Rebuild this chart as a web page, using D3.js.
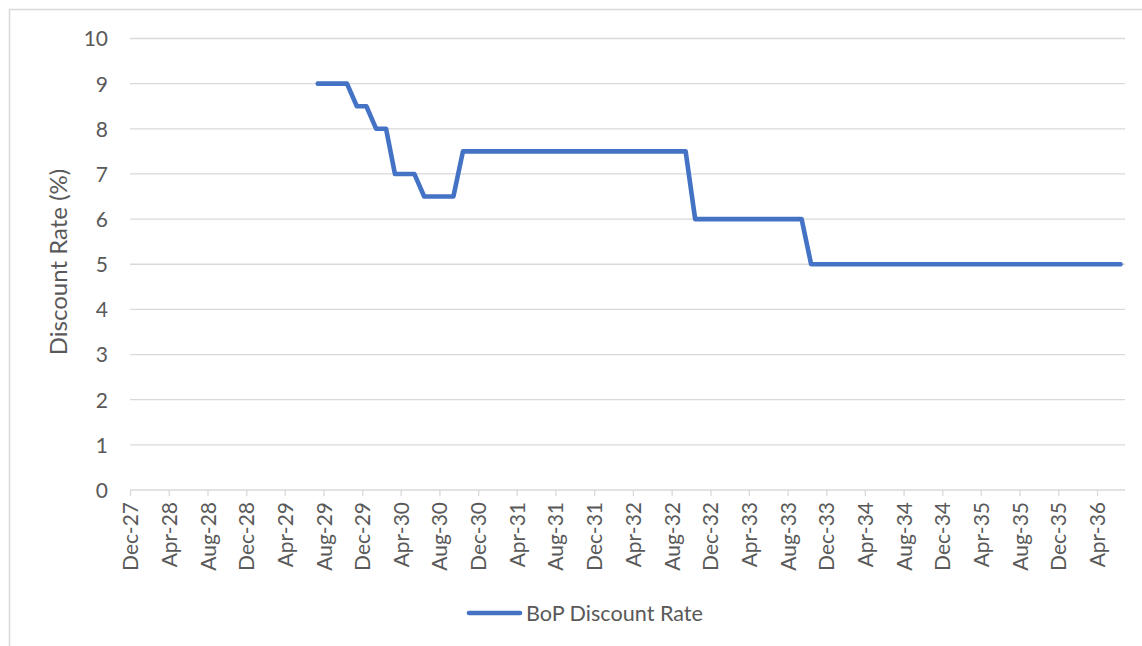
<!DOCTYPE html>
<html><head><meta charset="utf-8">
<script src="https://cdn.jsdelivr.net/npm/d3@7"></script>
<style>
html,body{margin:0;padding:0;background:#fff;}
svg{display:block;font-family:Lato, "Open Sans", sans-serif;}
</style></head>
<body><svg id="chart" width="1142" height="646"></svg>
<script>
// Monthly observations (YYYY-MM)
const months = [
 "1929-07","1929-08","1929-09","1929-10","1929-11","1929-12",
 "1930-01","1930-02","1930-03","1930-04","1930-05","1930-06","1930-07","1930-08","1930-09","1930-10","1930-11","1930-12",
 "1931-01","1931-02","1931-03","1931-04","1931-05","1931-06","1931-07","1931-08","1931-09","1931-10","1931-11","1931-12",
 "1932-01","1932-02","1932-03","1932-04","1932-05","1932-06","1932-07","1932-08","1932-09","1932-10","1932-11","1932-12",
 "1933-01","1933-02","1933-03","1933-04","1933-05","1933-06","1933-07","1933-08","1933-09","1933-10","1933-11","1933-12",
 "1934-01","1934-02","1934-03","1934-04","1934-05","1934-06","1934-07","1934-08","1934-09","1934-10","1934-11","1934-12",
 "1935-01","1935-02","1935-03","1935-04","1935-05","1935-06","1935-07","1935-08","1935-09","1935-10","1935-11","1935-12",
 "1936-01","1936-02","1936-03","1936-04","1936-05","1936-06"
];
const discountRate = [
 9,9,9,9,8.5,8.5,
 8,8,7,7,7,6.5,6.5,6.5,6.5,7.5,7.5,7.5,
 7.5,7.5,7.5,7.5,7.5,7.5,7.5,7.5,7.5,7.5,7.5,7.5,
 7.5,7.5,7.5,7.5,7.5,7.5,7.5,7.5,7.5,6,6,6,
 6,6,6,6,6,6,6,6,6,5,5,5,
 5,5,5,5,5,5,5,5,5,5,5,5,
 5,5,5,5,5,5,5,5,5,5,5,5,
 5,5,5,5,5,5
];
const xTickMonths = [
 "1927-12","1928-04","1928-08","1928-12","1929-04","1929-08","1929-12",
 "1930-04","1930-08","1930-12","1931-04","1931-08","1931-12",
 "1932-04","1932-08","1932-12","1933-04","1933-08","1933-12",
 "1934-04","1934-08","1934-12","1935-04","1935-08","1935-12","1936-04"
];
const yTicks = [0,1,2,3,4,5,6,7,8,9,10];
const seriesName = "BoP Discount Rate";
const yTitle = "Discount Rate (%)";
const axisStart = "1927-12-01";
const axisEnd = "1936-06-28";

(function(){
const parseDay = d3.timeParse("%Y-%m-%d");
const data = months.map((m,i)=>({date: parseDay(m+"-14"), value: discountRate[i]}));

const svg = d3.select("#chart");
const mLeft = 130, mRight = 1125, mTop = 38.5, mBottom = 490;
const textColor = "#595959", gridColor = "#d9d9d9", lineColor = "#4472c4";

// chart frame
svg.append("rect").attr("x",9.5).attr("y",9.5).attr("width",1200).attr("height",700)
  .attr("fill","none").attr("stroke",gridColor).attr("stroke-width",1.5);

const x = d3.scaleTime().domain([parseDay(axisStart), parseDay(axisEnd)]).range([mLeft, mRight]);
const y = d3.scaleLinear().domain([0,10]).range([mBottom, mTop]);

// gridlines
svg.append("g").selectAll("line").data(yTicks.filter(t=>t>0)).join("line")
  .attr("x1",mLeft).attr("x2",mRight).attr("y1",d=>y(d)).attr("y2",d=>y(d))
  .attr("stroke",gridColor).attr("stroke-width",1.3);

// y axis labels
const yAxis = d3.axisLeft(y).tickValues(yTicks).tickSize(0).tickPadding(22).tickFormat(d3.format("d"));
const gy = svg.append("g").attr("transform",`translate(${mLeft},0)`).call(yAxis);
gy.select(".domain").remove();
gy.selectAll("text").attr("fill",textColor).style("font-size","21px").style("font-family","Lato").attr("dy","0.35em");

// x axis
const xTickDates = xTickMonths.map(m=>parseDay(m+"-01"));
const xAxis = d3.axisBottom(x).tickValues(xTickDates).tickSize(6).tickPadding(8).tickFormat(d3.timeFormat("%b-%y"));
const gx = svg.append("g").attr("transform",`translate(0,${mBottom})`).call(xAxis);
gx.select(".domain").attr("stroke",gridColor).attr("stroke-width",1.3).attr("d",`M${mLeft},0H${mRight}`);
gx.selectAll(".tick line").attr("stroke",gridColor).attr("stroke-width",1.3);
gx.selectAll("text").attr("fill",textColor).style("font-size","21px").style("font-family","Lato")
  .attr("transform","rotate(-90)").attr("text-anchor","end").attr("x",-12).attr("y",0).attr("dy","0.36em");

// line
const line = d3.line().x(d=>x(d.date)).y(d=>y(d.value));
svg.append("path").datum(data).attr("d",line).attr("fill","none")
  .attr("stroke",lineColor).attr("stroke-width",4.6).attr("stroke-linejoin","round").attr("stroke-linecap","round");

// y title
svg.append("text").attr("transform","translate(67,262) rotate(-90)").attr("text-anchor","middle")
  .attr("fill",textColor).style("font-size","24px").text(yTitle);

// legend
const lg = svg.append("g");
lg.append("line").attr("x1",469).attr("x2",520).attr("y1",613).attr("y2",613)
  .attr("stroke",lineColor).attr("stroke-width",4.6).attr("stroke-linecap","round");
lg.append("text").attr("x",526).attr("y",613).attr("dy","0.35em").attr("fill",textColor)
  .style("font-size","21.6px").text(seriesName);
})();
</script></body></html>
